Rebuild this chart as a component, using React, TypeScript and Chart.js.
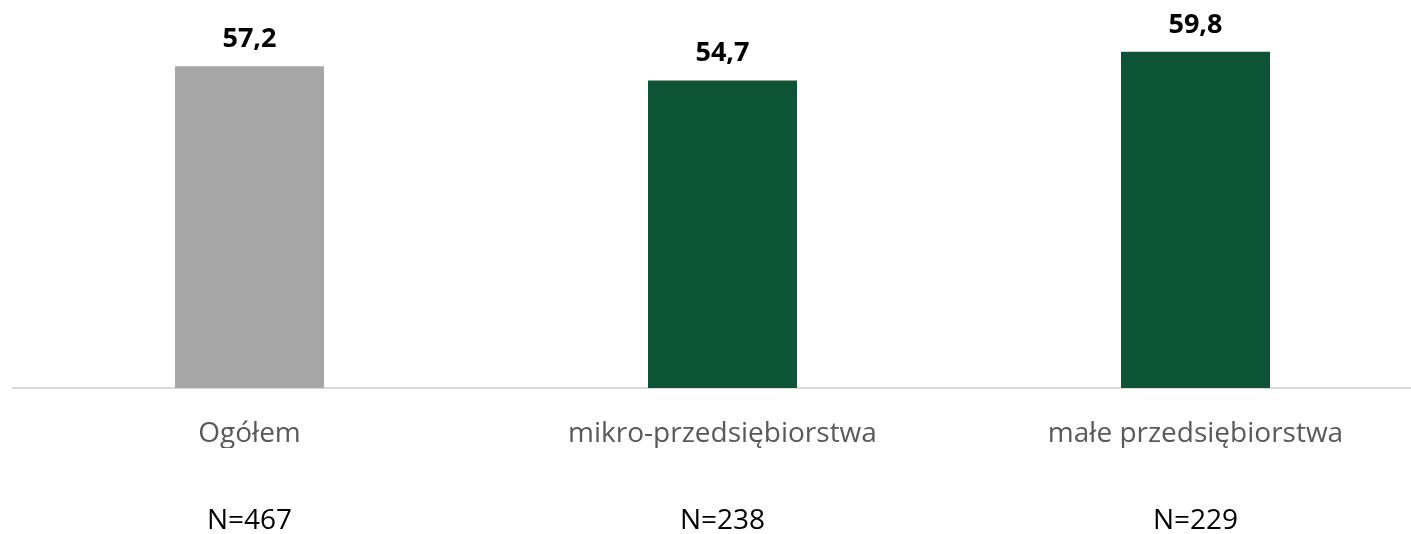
import React, { useEffect, useRef } from "react";
import { Chart, registerables } from "chart.js";

Chart.register(...registerables);

const categories = ["Ogółem", "mikro-przedsiębiorstwa", "małe przedsiębiorstwa"];
const sampleLabels = ["N=467", "N=238", "N=229"];
const values = [57.2, 54.7, 59.8];
const barColors = ["#a6a6a6", "#0c5435", "#0c5435"];

const FONT = "'Open Sans', 'DejaVu Sans', sans-serif";

const valueLabelPlugin = {
  id: "valueLabels",
  afterDatasetsDraw(chart: any) {
    const ctx = chart.ctx;
    const meta = chart.getDatasetMeta(0);
    ctx.save();
    ctx.font = `bold 27px ${FONT}`;
    ctx.fillStyle = "#000000";
    ctx.textAlign = "center";
    ctx.textBaseline = "alphabetic";
    meta.data.forEach((el: any, i: number) => {
      const v = chart.data.datasets[0].data[i] as number;
      ctx.fillText(v.toFixed(1).replace(".", ","), el.x, el.y - 19);
    });
    ctx.restore();
  },
};

export default function App() {
  const canvasRef = useRef<HTMLCanvasElement | null>(null);

  useEffect(() => {
    if (!canvasRef.current) return;
    const chart = new Chart(canvasRef.current, {
      type: "bar",
      data: {
        labels: categories,
        datasets: [
          {
            data: values,
            backgroundColor: barColors,
            borderWidth: 0,
            barPercentage: 0.63,
            categoryPercentage: 0.5,
          },
        ],
      },
      options: {
        responsive: true,
        maintainAspectRatio: false,
        animation: false,
        layout: { padding: { left: 13, right: 0, top: 0, bottom: 0 } },
        plugins: {
          legend: { display: false },
          tooltip: { enabled: false },
          title: { display: false },
        },
        scales: {
          y: {
            display: false,
            min: 0,
            max: 69,
            grid: { display: false },
          },
          x: {
            weight: 0,
            grid: { display: false, drawTicks: false },
            border: { display: true, color: "#d9d9d9", width: 2 },
            ticks: {
              color: "#595959",
              font: { family: FONT, size: 28 },
              padding: 29,
              maxRotation: 0,
              autoSkip: false,
            },
            afterFit: (scale: any) => {
              scale.height = 60;
            },
          },
          x2: {
            type: "category",
            labels: sampleLabels,
            position: "bottom",
            offset: true,
            weight: 1,
            grid: { display: false, drawTicks: false },
            border: { display: false },
            ticks: {
              color: "#000000",
              font: { family: FONT, size: 28 },
              padding: 56,
              maxRotation: 0,
              autoSkip: false,
            },
            afterFit: (scale: any) => {
              scale.height = 86;
            },
          },
        },
      },
      plugins: [valueLabelPlugin],
    });
    return () => chart.destroy();
  }, []);

  return (
    <div
      style={{
        position: "fixed",
        left: 0,
        top: 0,
        width: 1411,
        height: 534,
        overflow: "hidden",
        background: "#ffffff",
      }}
    >
      <div style={{ position: "relative", width: 1432, height: 534 }}>
        <canvas ref={canvasRef} />
      </div>
    </div>
  );
}
